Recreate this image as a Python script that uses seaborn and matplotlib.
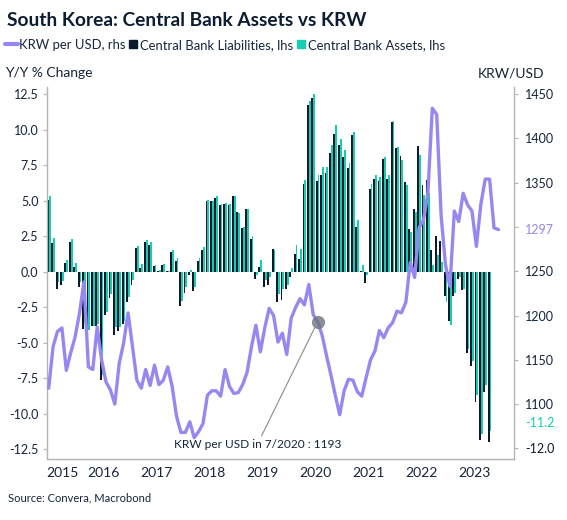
import numpy as np
import pandas as pd
import seaborn as sns
import matplotlib.pyplot as plt
from matplotlib.lines import Line2D

# monthly observations, first month is June 2015
start_month = "2015-06"

liabilities = [
    5.05, 2.0, -1.25, -0.9, 0.61, 2.09, 0.35, -1.05, -4.04, -4.15,
    -3.85, -3.85, -7.63, -3.05, -1.85, -4.48, -4.2, -3.7, -2.16, -0.9,
    1.64, 0.26, 2.1, 1.88, 0.4, 0.05, 0.47, 0.03, 1.4, 0.73,
    -2.44, -1.48, -0.25, -1.38, 0.77, 1.53, 5.0, 5.0, 5.2, 4.7,
    4.8, 4.72, 5.35, 4.2, 3.07, 4.39, 2.32, -0.5, 0.33, -1.08,
    -0.96, 1.62, -2.14, -1.97, -1.24, -0.4, 1.27, 0.92, 6.15, 11.76,
    12.23, 6.36, 6.83, 6.97, 8.36, 9.72, 8.95, 8.07, 7.3, 9.6,
    3.15, 0.05, -0.77, 5.85, 6.5, 6.38, 7.96, 6.55, 10.54, 8.7,
    8.15, 6.31, 3.03, 4.44, 8.83, 6.13, 6.48, 1.5, 2.49, 2.14,
    -1.71, -3.47, -1.74, -0.54, -1.31, -5.7, -6.6, -9.18, -11.83, -8.43,
    -12.0,
]

assets = [
    5.35, 2.37, -0.75, -0.63, 0.85, 2.3, 0.6, -0.75, -3.6, -4.1,
    -3.8, -3.7, -7.28, -2.86, -1.6, -3.9, -3.9, -3.45, -1.8, -0.56,
    1.8, 0.54, 2.25, 2.07, 0.47, 0.1, 0.54, 0.07, 1.53, 1.0,
    -2.04, -1.1, 0.1, -1.06, 1.0, 1.71, 5.05, 5.0, 5.3, 4.77,
    4.86, 4.75, 5.35, 4.1, 3.15, 4.39, 2.5, -0.2, 0.8, -0.6,
    -0.38, 1.5, -1.55, -1.24, -0.96, 0.25, 1.85, 1.62, 6.43, 12.0,
    12.54, 6.83, 7.37, 7.37, 8.9, 10.35, 9.37, 8.54, 7.65, 9.84,
    3.66, 0.45, -0.26, 6.2, 6.83, 6.67, 8.07, 6.78, 10.59, 8.78,
    7.84, 6.08, 2.8, 4.2, 8.2, 5.38, 5.56, 0.45, 1.15, 0.68,
    -2.14, -3.73, -1.48, -0.38, -1.2, -5.47, -6.3, -8.7, -11.4, -7.96,
    -11.22,
]

krw = [
    1118, 1165, 1182, 1186, 1138, 1158, 1176, 1203, 1238, 1142,
    1139, 1187, 1150, 1125, 1116, 1100, 1146, 1169, 1203, 1165,
    1127, 1118, 1139, 1121, 1144, 1122, 1127, 1142, 1120, 1086,
    1068, 1068, 1080, 1062, 1069, 1078, 1110, 1115, 1115, 1109,
    1139, 1120, 1112, 1113, 1122, 1136, 1165, 1189, 1159, 1186,
    1208, 1200, 1170, 1180, 1156, 1197, 1209, 1219, 1212, 1235,
    1201, 1193, 1178, 1155, 1133, 1110, 1088, 1115, 1128, 1127,
    1114, 1109, 1130, 1150, 1160, 1183, 1175, 1186, 1192, 1205,
    1203, 1215, 1260, 1243, 1299, 1308, 1338, 1434, 1427, 1313,
    1257, 1233, 1318, 1306, 1338, 1325, 1318, 1278, 1325, 1354,
    1354, 1299, 1297,
]

year_labels = ["2015", "2016", "2017", "2018", "2019", "2020", "2021", "2022", "2023"]
left_ticks = [-12.5, -10.0, -7.5, -5.0, -2.5, 0.0, 2.5, 5.0, 7.5, 10.0, 12.5]
right_ticks = [1050, 1100, 1150, 1200, 1250, 1300, 1350, 1400, 1450]

note_month = "2020-07"

DARK = "#0b1a2c"
TEAL = "#18cbb1"
PURPLE = "#9787f1"
TEXT = "#15243b"
SPINE = "#b4b4b4"

W, H = 567, 520

sns.set_theme(style="white")
plt.rcParams["font.family"] = ["Lato", "DejaVu Sans"]
plt.rcParams["text.color"] = TEXT

months = pd.period_range(start_month, periods=len(krw), freq="M")
n_bar = len(liabilities)
bar_months = list(months[:n_bar].strftime("%Y-%m"))
bars = pd.DataFrame({
    "month": bar_months * 2,
    "value": liabilities + assets,
    "series": ["Central Bank Liabilities, lhs"] * n_bar + ["Central Bank Assets, lhs"] * n_bar,
})
line = pd.DataFrame({"pos": np.arange(len(krw)), "krw": krw})

fig = plt.figure(figsize=(W / 100, H / 100), dpi=100)
ax = fig.add_axes([46.7 / W, 1 - 459 / H, (514.3 - 46.7) / W, (459 - 87) / H])

sns.barplot(data=bars, x="month", y="value", hue="series", order=bar_months,
            palette=[DARK, TEAL], width=0.84, saturation=1, errorbar=None,
            legend=False, linewidth=0, edgecolor="none", ax=ax)

ax2 = ax.twinx()
sns.lineplot(data=line, x="pos", y="krw", color=PURPLE, linewidth=2.4, ax=ax2)

ax.set_xlim(-0.45, 105.6)
ax.set_ylim(-13.18, 13.0)
ax2.set_ylim(1038, 1458)

# years: ticks at January boundaries, labels centred in each year
first_jan = 12 - months[0].month + 1
bounds = [first_jan - 0.5 + 12 * k for k in range(len(year_labels))]
centres = [(max(b - 12, ax.get_xlim()[0]) + b) / 2 for b in bounds]
ax.set_xticks(bounds)
ax.set_xticklabels([])
ax.set_xticks(centres, minor=True)
ax.set_xticklabels(year_labels, minor=True, fontsize=10, color=TEXT)
ax.tick_params(axis="x", which="major", length=5, width=0.8, color=SPINE, direction="out")
ax.tick_params(axis="x", which="minor", length=0, pad=6)

ax.set_yticks(left_ticks)
ax.set_yticklabels([f"{v:.1f}" for v in left_ticks], fontsize=9, color=TEXT)
ax.tick_params(axis="y", length=3, width=0.8, color=SPINE, pad=3, left=True)
ax.set_xlabel("")
ax.set_ylabel("")

ax2.set_yticks(right_ticks)
ax2.set_yticklabels(["" if v in (1050, 1300) else str(v) for v in right_ticks],
                    fontsize=9, color=TEXT)
ax2.tick_params(axis="y", length=3, width=0.8, color=SPINE, pad=5, right=True)
ax2.set_ylabel("")

for a in (ax, ax2):
    for s in a.spines.values():
        s.set_visible(False)
ax.spines["left"].set_visible(True)
ax.spines["bottom"].set_visible(True)
ax2.spines["right"].set_visible(True)
for s in (ax.spines["left"], ax.spines["bottom"], ax2.spines["right"]):
    s.set_color(SPINE)
    s.set_linewidth(1.0)

# last values on the right side
ax2.annotate(f"{krw[-1]}", xy=(1, krw[-1]), xycoords=("axes fraction", "data"),
             xytext=(8, 0), textcoords="offset points", va="center", ha="left",
             fontsize=9, color=PURPLE)
ax.annotate(f"{assets[-1]:.1f}", xy=(1, assets[-1]), xycoords=("axes fraction", "data"),
            xytext=(8, 6), textcoords="offset points", va="center", ha="left",
            fontsize=9, color=TEAL)
ax.annotate(f"{liabilities[-1]:.1f}", xy=(1, liabilities[-1]), xycoords=("axes fraction", "data"),
            xytext=(8, -4.8), textcoords="offset points", va="center", ha="left",
            fontsize=9, color=DARK)

# highlighted point
i_note = list(months.strftime("%Y-%m")).index(note_month)
ax2.plot(i_note, krw[i_note], marker="o", markersize=9.5, color="#6d7580",
         alpha=0.8, markeredgewidth=0, zorder=5)
ax2.annotate(f"KRW per USD in {months[i_note].month}/{months[i_note].year} : {krw[i_note]}",
             xy=(i_note, krw[i_note]), xytext=(-43.5, -88.5), textcoords="offset points",
             ha="center", va="center", fontsize=8.6, color=TEXT,
             arrowprops=dict(arrowstyle="-", color="#8a8a8a", lw=0.8,
                             shrinkA=0, shrinkB=4.5))

# header texts
fig.text(7 / W, 1 - 21 / H, "South Korea: Central Bank Assets vs KRW",
         fontsize=13.8, fontweight="bold", color="#0c1d33", va="center")
handles = [
    Line2D([], [], color=PURPLE, linewidth=3),
    Line2D([], [], color=DARK, marker="s", linestyle="", markersize=6),
    Line2D([], [], color=TEAL, marker="s", linestyle="", markersize=6),
]
fig.legend(handles, ["KRW per USD, rhs", "Central Bank Liabilities, lhs", "Central Bank Assets, lhs"],
           loc="center left", bbox_to_anchor=(5 / W, 1 - 45 / H), ncol=3, frameon=False,
           fontsize=9.4, handlelength=1.0, handletextpad=0.05, columnspacing=0.1,
           borderpad=0, borderaxespad=0, labelcolor=TEXT)
fig.text(5 / W, 1 - 73 / H, "Y/Y % Change", fontsize=10, va="center", color=TEXT)
fig.text(544 / W, 1 - 73 / H, "KRW/USD", fontsize=10, va="center", ha="right", color=TEXT)
fig.text(8 / W, 1 - 498 / H, "Source: Convera, Macrobond", fontsize=8, va="center", color=TEXT)

fig.savefig("out.png", dpi=100)
